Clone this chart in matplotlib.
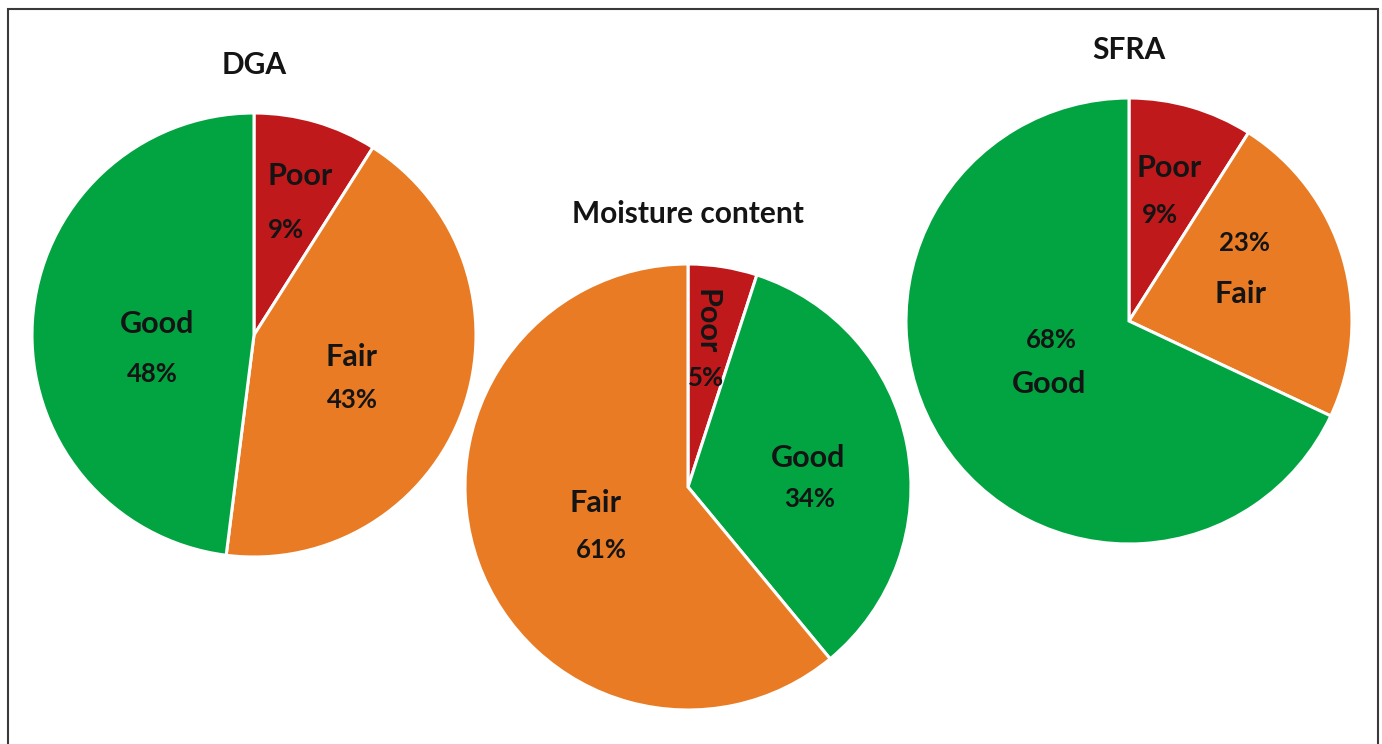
import matplotlib
matplotlib.use("Agg")
import matplotlib.pyplot as plt
from matplotlib.patches import Rectangle

# Condition shares (%) per diagnostic test, listed clockwise from 12 o'clock
dga_labels = ["Poor", "Fair", "Good"]
dga_values = [9, 43, 48]

moisture_labels = ["Poor", "Good", "Fair"]
moisture_values = [5, 34, 61]

sfra_labels = ["Poor", "Fair", "Good"]
sfra_values = [9, 23, 68]

titles = ["DGA", "Moisture content", "SFRA"]

colors = {"Poor": "#C0191C", "Fair": "#E87B24", "Good": "#02A441"}

W, H = 1382, 744
fig = plt.figure(figsize=(W / 100, H / 100), dpi=100)
ax = fig.add_axes([0, 0, 1, 1])
ax.set_xlim(0, W)
ax.set_ylim(0, H)
ax.set_aspect("equal")
ax.axis("off")

FONT = "Lato"
TXT = "#141414"


def y(py):
    return H - py


def draw_pie(labels, values, center, radius):
    ax.pie(values, colors=[colors[l] for l in labels], startangle=90,
           counterclock=False, center=(center[0], y(center[1])), radius=radius,
           wedgeprops=dict(edgecolor="white", linewidth=2.2), frame=True)


draw_pie(dga_labels, dga_values, (254, 335), 222)
draw_pie(moisture_labels, moisture_values, (688, 487), 223)
draw_pie(sfra_labels, sfra_values, (1129, 321), 223)

# restore full-figure view after pie() calls
ax.set_xlim(0, W)
ax.set_ylim(0, H)
ax.axis("off")

title_pos = [(254, 65), (688, 214), (1129, 50)]
for t, (px, py) in zip(titles, title_pos):
    ax.text(px, y(py), t, ha="center", va="center", fontsize=21.5,
            fontweight="bold", family=FONT, color=TXT)


def name(px, py, s, rot=0):
    ax.text(px, y(py), s, ha="center", va="center", fontsize=22,
            fontweight="bold", family=FONT, color=TXT, rotation=rot)


def pct(px, py, v):
    ax.text(px, y(py), f"{v}%", ha="center", va="center", fontsize=18.5,
            fontweight="bold", family=FONT, color=TXT)


# DGA labels
name(300, 176, dga_labels[0]); pct(286, 230, dga_values[0])
name(352, 357, dga_labels[1]); pct(352, 400, dga_values[1])
name(157, 324, dga_labels[2]); pct(152, 374, dga_values[2])

# Moisture content labels
name(707, 322, moisture_labels[0], rot=-90); pct(706, 378, moisture_values[0])
name(808, 458, moisture_labels[1]); pct(810, 499, moisture_values[1])
name(596, 503, moisture_labels[2]); pct(601, 550, moisture_values[2])

# SFRA labels
name(1169, 168, sfra_labels[0]); pct(1160, 215, sfra_values[0])
pct(1245, 243, sfra_values[1]); name(1241, 294, sfra_labels[1])
pct(1051, 340, sfra_values[2]); name(1049, 384, sfra_labels[2])

# frame around the figure
ax.add_patch(Rectangle((8, y(760)), 1370, 751, fill=False,
                       edgecolor="#3a3a3a", linewidth=1.5, clip_on=False))

fig.savefig("out.png", dpi=100)
